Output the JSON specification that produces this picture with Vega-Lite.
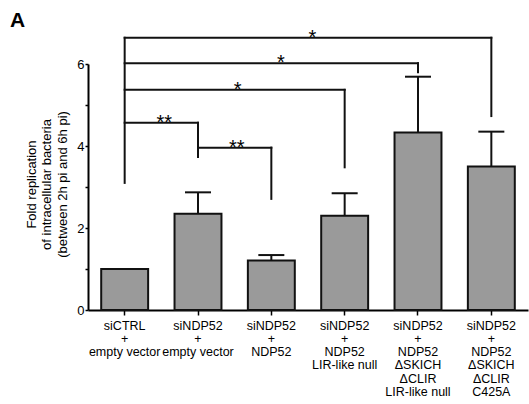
{
  "$schema": "https://vega.github.io/schema/vega-lite/v6.json",
  "width": 440,
  "height": 246,
  "autosize": {"type": "none"},
  "padding": {"left": 88, "top": 64, "right": 1, "bottom": 94},
  "title": {"text": "A", "anchor": "start", "frame": "group", "font": "Liberation Sans", "fontSize": 21, "fontWeight": "bold", "color": "#000", "dx": -78, "dy": 13, "offset": 10},
  "config": {"view": {"stroke": null}, "font": "Liberation Sans"},
  "datasets": {
    "bars": [
      {"group": "siCTRL|+|empty vector", "mean": 1.0, "upper": null},
      {"group": "siNDP52|+|empty vector", "mean": 2.35, "upper": 2.87},
      {"group": "siNDP52|+|NDP52", "mean": 1.21, "upper": 1.34},
      {"group": "siNDP52|+|NDP52|LIR-like null", "mean": 2.30, "upper": 2.85},
      {"group": "siNDP52|+|NDP52|ΔSKICH|ΔCLIR|LIR-like null", "mean": 4.33, "upper": 5.69},
      {"group": "siNDP52|+|NDP52|ΔSKICH|ΔCLIR|C425A", "mean": 3.50, "upper": 4.35}
    ],
    "brackets": [
      {"x": 0.5, "x2": 0.5, "y": 3.10, "y2": 6.64},
      {"x": 0.5, "x2": 5.5, "y": 6.64, "y2": 6.64},
      {"x": 5.5, "x2": 5.5, "y": 6.64, "y2": 4.73},
      {"x": 0.5, "x2": 4.5, "y": 6.02, "y2": 6.02},
      {"x": 4.5, "x2": 4.5, "y": 6.02, "y2": 5.80},
      {"x": 0.5, "x2": 3.5, "y": 5.37, "y2": 5.37},
      {"x": 3.5, "x2": 3.5, "y": 5.37, "y2": 3.48},
      {"x": 0.5, "x2": 1.5, "y": 4.57, "y2": 4.57},
      {"x": 1.5, "x2": 1.5, "y": 4.57, "y2": 3.73},
      {"x": 1.5, "x2": 2.5, "y": 3.96, "y2": 3.96},
      {"x": 2.5, "x2": 2.5, "y": 3.96, "y2": 2.71}
    ],
    "stars": [
      {"x": 3.06, "y": 6.64, "sig": "*"},
      {"x": 2.63, "y": 6.02, "sig": "*"},
      {"x": 2.04, "y": 5.37, "sig": "*"},
      {"x": 1.04, "y": 4.57, "sig": "**"},
      {"x": 2.03, "y": 3.96, "sig": "**"}
    ]
  },
  "resolve": {"scale": {"x": "independent"}, "axis": {"x": "independent"}},
  "layer": [
    {
      "data": {"name": "bars"},
      "encoding": {
        "x": {
          "field": "group", "type": "nominal", "sort": null,
          "scale": {"paddingInner": 0.36, "paddingOuter": 0.18},
          "axis": {
            "title": null, "labelAngle": 0, "labelExpr": "split(datum.label, '|')",
            "labelFontSize": 12.5, "labelLineHeight": 13.3, "labelColor": "#000",
            "labelPadding": 4, "tickSize": 5, "tickColor": "#000", "tickWidth": 1.5,
            "domainColor": "#000", "domainWidth": 2
          }
        }
      },
      "layer": [
        {
          "mark": {"type": "bar", "fill": "#9a9a9a", "stroke": "#111", "strokeWidth": 2},
          "encoding": {
            "y": {
              "field": "mean", "type": "quantitative",
              "scale": {"domain": [0, 6], "nice": false},
              "axis": {
                "values": [0, 0.5, 1, 1.5, 2, 2.5, 3, 3.5, 4, 4.5, 5, 5.5, 6],
                "labelExpr": "datum.value % 2 == 0 ? datum.label : ''",
                "grid": false, "tickSize": 3, "tickWidth": 1.5, "tickColor": "#000",
                "labelPadding": 1, "labelFontSize": 13, "labelColor": "#000",
                "domainColor": "#000", "domainWidth": 2,
                "title": ["Fold replication", "of intracellular bacteria", "(between 2h pi and 6h pi)"],
                "titleFontSize": 13, "titleFontWeight": "normal", "titleColor": "#000",
                "titleLineHeight": 15.5, "titleAngle": -90, "titleAlign": "center",
                "titleBaseline": "middle", "titleX": -57, "titleY": 120
              }
            }
          }
        },
        {
          "transform": [{"filter": "datum.upper != null"}],
          "mark": {"type": "rule", "color": "#111", "strokeWidth": 2},
          "encoding": {
            "y": {"field": "mean", "type": "quantitative", "scale": {"domain": [0, 6], "nice": false}},
            "y2": {"field": "upper"}
          }
        },
        {
          "transform": [{"filter": "datum.upper != null"}],
          "mark": {"type": "tick", "color": "#111", "size": 26, "thickness": 2, "opacity": 1},
          "encoding": {
            "y": {"field": "upper", "type": "quantitative", "scale": {"domain": [0, 6], "nice": false}}
          }
        }
      ]
    },
    {
      "encoding": {
        "x": {"field": "x", "type": "quantitative", "scale": {"domain": [0, 6], "nice": false, "zero": false}, "axis": null}
      },
      "layer": [
        {
          "data": {"name": "brackets"},
          "mark": {"type": "rule", "color": "#111", "strokeWidth": 2, "strokeCap": "square"},
          "encoding": {
            "x2": {"field": "x2"},
            "y": {"field": "y", "type": "quantitative", "scale": {"domain": [0, 6], "nice": false}},
            "y2": {"field": "y2"}
          }
        },
        {
          "data": {"name": "stars"},
          "mark": {"type": "text", "fontSize": 20, "baseline": "alphabetic", "dy": 6, "color": "#000"},
          "encoding": {
            "y": {"field": "y", "type": "quantitative", "scale": {"domain": [0, 6], "nice": false}},
            "text": {"field": "sig"}
          }
        }
      ]
    }
  ]
}
